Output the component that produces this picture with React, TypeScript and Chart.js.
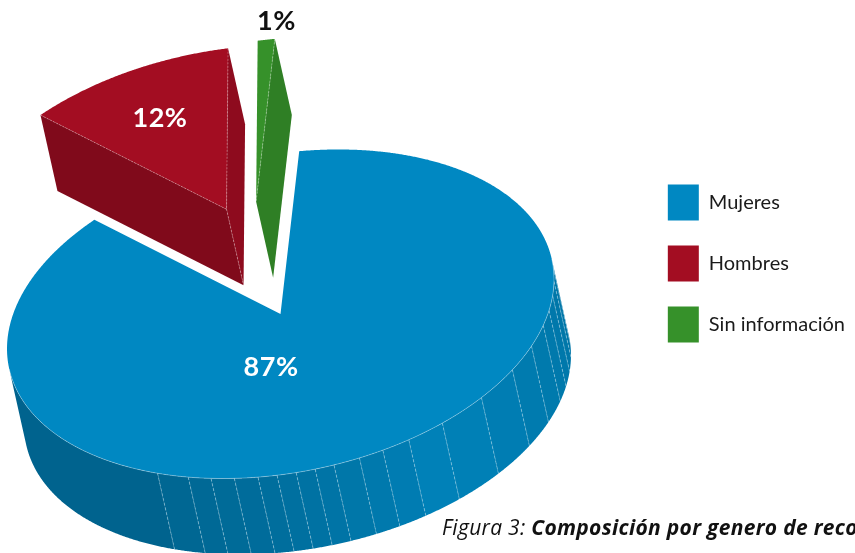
import React, { useEffect, useRef } from 'react';
import { Chart, registerables } from 'chart.js';

Chart.register(...registerables);

// ---- data ----
const CATEGORIES = ['Mujeres', 'Hombres', 'Sin información'];
const VALUES = [87, 12, 1];
const VALUE_LABELS = ['87%', '12%', '1%'];
const SLICE_COLORS = ['#0088c2', '#a30d22', '#36912a'];
const CAPTION_PREFIX = 'Figura 3: ';
const CAPTION_TITLE = 'Composición por genero de recolectores';

// ---- 3D view styling ----
const FONT = 'Lato';
const CAPTION_FONT = '"Open Sans"';
const VIEW = { cx: 280.5, cy: 314, a: 276.8, b: 158.9, tilt: 10.85, dx: 17, dy: 76 };
const ROTATION_DEG = 10.2;
const EXPLODE = [
  { d: 0, ang: 0 },
  { d: 0.721, ang: -99.6 },
  { d: 0.723, ang: -90.8 },
];
const LABEL_POS = [
  { r: 0.318, ang: 102.5 },
  { r: 0.671, ang: null },
  { r: 1.116, ang: -79.9 },
];
const LABEL_COLORS = ['#ffffff', '#ffffff', '#111111'];
const FACET_BREAKS = [123, 116, 111, 106, 101, 97, 93, 89, 85, 79.5, 74.3, 68.3, 60, 49, 38.3, 29.7, 22.4, 17.2, 12, 7, 2, -3];
const SHADE_TABLE: number[][] = [
  [-180, 0.85], [-9, 0.86], [37, 0.9], [63, 0.95], [78, 0.85], [86, 0.8],
  [100, 0.75], [116, 0.79], [124, 0.73], [180, 0.72],
];

function hexToRgb(h: string) {
  const n = parseInt(h.slice(1), 16);
  return [(n >> 16) & 255, (n >> 8) & 255, n & 255];
}
function shadeFactor(psi: number) {
  for (let i = 0; i < SHADE_TABLE.length - 1; i++) {
    const [x0, y0] = SHADE_TABLE[i];
    const [x1, y1] = SHADE_TABLE[i + 1];
    if (psi >= x0 && psi <= x1) return y0 + ((y1 - y0) * (psi - x0)) / (x1 - x0);
  }
  return 0.8;
}
function shaded(rgb: number[], nx: number, ny: number) {
  const psi = (Math.atan2(ny, nx) * 180) / Math.PI;
  const f = shadeFactor(psi);
  return `rgb(${Math.round(rgb[0] * f)},${Math.round(rgb[1] * f)},${Math.round(rgb[2] * f)})`;
}

const pie3d = {
  id: 'pie3d',
  beforeDatasetsDraw(chart: any) {
    const ctx = chart.ctx;
    const meta = chart.getDatasetMeta(0);
    const t = (VIEW.tilt * Math.PI) / 180;
    const ct = Math.cos(t), st = Math.sin(t);
    const proj = (u: number, v: number) => [
      VIEW.cx + VIEW.a * u * ct + VIEW.b * v * st,
      VIEW.cy - VIEW.a * u * st + VIEW.b * v * ct,
    ];
    const D = [VIEW.dx, VIEW.dy];
    const STEP = Math.PI / 720;
    const rimNormal = (phi: number) => {
      const tx = VIEW.a * -Math.sin(phi) * ct + VIEW.b * Math.cos(phi) * st;
      const ty = -VIEW.a * -Math.sin(phi) * st + VIEW.b * Math.cos(phi) * ct;
      return [ty, -tx];
    };
    const visN = (n: number[]) => n[0] * D[0] + n[1] * D[1] > 0;

    const slices = meta.data.map((arc: any, i: number) => {
      const p = arc.getProps(['startAngle', 'endAngle'], true);
      const ea = (EXPLODE[i].ang * Math.PI) / 180;
      const ex = EXPLODE[i].d * Math.cos(ea);
      const ey = EXPLODE[i].d * Math.sin(ea);
      const rim = (phi: number) => proj(ex + Math.cos(phi), ey + Math.sin(phi));
      return {
        i, a0: p.startAngle, a1: p.endAngle, ex, ey, rim,
        V: proj(ex, ey), rgb: hexToRgb(SLICE_COLORS[i]), proj,
      };
    });
    chart.$pie3d = slices;

    const highlights: number[][][] = [];
    const dashes: number[][][] = [];

    // ---- side faces ----
    slices.forEach((s: any) => {
      if (s.a1 - s.a0 <= 0) return;
      const P0 = s.rim(s.a0), P1 = s.rim(s.a1), V = s.V;
      const quad = (A: number[], B: number[], n: number[]) => {
        ctx.beginPath();
        ctx.moveTo(A[0], A[1]);
        ctx.lineTo(B[0], B[1]);
        ctx.lineTo(B[0] + D[0], B[1] + D[1]);
        ctx.lineTo(A[0] + D[0], A[1] + D[1]);
        ctx.closePath();
        ctx.fillStyle = shaded(s.rgb, n[0], n[1]);
        ctx.fill();
      };
      const n1 = [P0[1] - V[1], -(P0[0] - V[0])];
      const n2 = [V[1] - P1[1], -(V[0] - P1[0])];
      const v1 = visN(n1), v2 = visN(n2);
      if (v1) { quad(V, P0, n1); highlights.push([V, P0]); }
      if (v2) { quad(P1, V, n2); highlights.push([P1, V]); }
      if (v1 && v2) highlights.push([V, [V[0] + D[0], V[1] + D[1]]]);

      // outer wall facets
      const breaks = [s.a0, s.a1];
      FACET_BREAKS.forEach((b) => {
        let r = (b * Math.PI) / 180;
        while (r < s.a0) r += Math.PI * 2;
        while (r >= s.a0 + Math.PI * 2) r -= Math.PI * 2;
        if (r > s.a0 && r < s.a1) breaks.push(r);
      });
      breaks.sort((x, y) => x - y);
      for (let f = 0; f < breaks.length - 1; f++) {
        const f0 = breaks[f], f1 = breaks[f + 1];
        const n = Math.max(2, Math.ceil((f1 - f0) / STEP) + 1);
        let run: number[] = [];
        const flush = () => {
          if (run.length >= 2) {
            const pts = run.map((phi) => s.rim(phi));
            const mid = run[Math.floor(run.length / 2)];
            const nn = rimNormal(mid);
            ctx.beginPath();
            ctx.moveTo(pts[0][0], pts[0][1]);
            for (let k = 1; k < pts.length; k++) ctx.lineTo(pts[k][0], pts[k][1]);
            for (let k = pts.length - 1; k >= 0; k--) ctx.lineTo(pts[k][0] + D[0], pts[k][1] + D[1]);
            ctx.closePath();
            ctx.fillStyle = shaded(s.rgb, nn[0], nn[1]);
            ctx.fill();
            for (let k = 0; k < pts.length - 1; k++) highlights.push([pts[k], pts[k + 1]]);
          }
          run = [];
        };
        for (let k = 0; k < n; k++) {
          const phi = f0 + ((f1 - f0) * k) / (n - 1);
          if (visN(rimNormal(phi))) run.push(phi); else flush();
        }
        flush();
        if (f > 0 && visN(rimNormal(f0))) {
          const P = s.rim(f0);
          dashes.push([P, [P[0] + D[0], P[1] + D[1]]]);
        }
      }
    });

    // facet lines
    ctx.save();
    ctx.strokeStyle = 'rgba(190,225,240,0.55)';
    ctx.lineWidth = 0.8;
    ctx.setLineDash([3, 2]);
    dashes.forEach(([A, B]) => {
      ctx.beginPath();
      ctx.moveTo(A[0], A[1]);
      ctx.lineTo(B[0], B[1]);
      ctx.stroke();
    });
    ctx.restore();

    // ---- top faces ----
    slices.forEach((s: any) => {
      if (s.a1 - s.a0 <= 0) return;
      ctx.beginPath();
      ctx.moveTo(s.V[0], s.V[1]);
      const n = Math.max(2, Math.ceil((s.a1 - s.a0) / STEP) + 1);
      for (let k = 0; k < n; k++) {
        const P = s.rim(s.a0 + ((s.a1 - s.a0) * k) / (n - 1));
        ctx.lineTo(P[0], P[1]);
      }
      ctx.closePath();
      ctx.fillStyle = SLICE_COLORS[s.i];
      ctx.fill();
    });

    // edge highlights
    ctx.save();
    ctx.strokeStyle = 'rgba(255,255,255,0.4)';
    ctx.lineWidth = 0.8;
    ctx.setLineDash([2, 1.5]);
    highlights.forEach(([A, B]) => {
      ctx.beginPath();
      ctx.moveTo(A[0], A[1]);
      ctx.lineTo(B[0], B[1]);
      ctx.stroke();
    });
    ctx.restore();
    return false;
  },
  afterDraw(chart: any) {
    const ctx = chart.ctx;
    const slices = chart.$pie3d || [];
    ctx.save();
    slices.forEach((s: any) => {
      const lp = LABEL_POS[s.i];
      const ang = lp.ang === null ? (s.a0 + s.a1) / 2 : (lp.ang * Math.PI) / 180;
      const P = s.proj(s.ex + lp.r * Math.cos(ang), s.ey + lp.r * Math.sin(ang));
      ctx.font = `bold 27px ${FONT}`;
      (ctx as any).letterSpacing = '0.5px';
      ctx.fillStyle = LABEL_COLORS[s.i];
      ctx.textAlign = 'center';
      ctx.textBaseline = 'alphabetic';
      ctx.fillText(VALUE_LABELS[s.i], P[0], P[1] + 9.8);
    });
    // caption
    ctx.textAlign = 'left';
    ctx.fillStyle = '#111111';
    (ctx as any).letterSpacing = '0.3px';
    ctx.font = `italic 400 21px ${CAPTION_FONT}`;
    ctx.fillText(CAPTION_PREFIX, 442, 535);
    const w = ctx.measureText(CAPTION_PREFIX).width;
    ctx.font = `italic 700 21px ${CAPTION_FONT}`;
    ctx.fillText(CAPTION_TITLE, 442 + w, 535);
    ctx.restore();
  },
};

export default function App() {
  const ref = useRef<HTMLCanvasElement>(null);
  useEffect(() => {
    document.body.style.margin = '0';
    const chart = new Chart(ref.current as HTMLCanvasElement, {
      type: 'pie',
      data: {
        labels: CATEGORIES,
        datasets: [
          {
            data: VALUES,
            backgroundColor: SLICE_COLORS,
            borderWidth: 0,
          },
        ],
      },
      options: {
        responsive: false,
        animation: false,
        rotation: ROTATION_DEG,
        layout: { padding: { right: 0, bottom: 26 } },
        plugins: {
          tooltip: { enabled: false },
          legend: {
            position: 'right',
            align: 'center',
            labels: {
              boxWidth: 31,
              boxHeight: 36,
              padding: 25,
              color: '#1a1a1a',
              font: { family: FONT, size: 20 },
            },
          },
        },
      },
      plugins: [pie3d],
    } as any);
    return () => chart.destroy();
  }, []);
  return (
    <div style={{ position: 'fixed', left: 0, top: 0, width: 855, height: 553, background: '#fff' }}>
      <canvas ref={ref} width={855} height={553} />
    </div>
  );
}
